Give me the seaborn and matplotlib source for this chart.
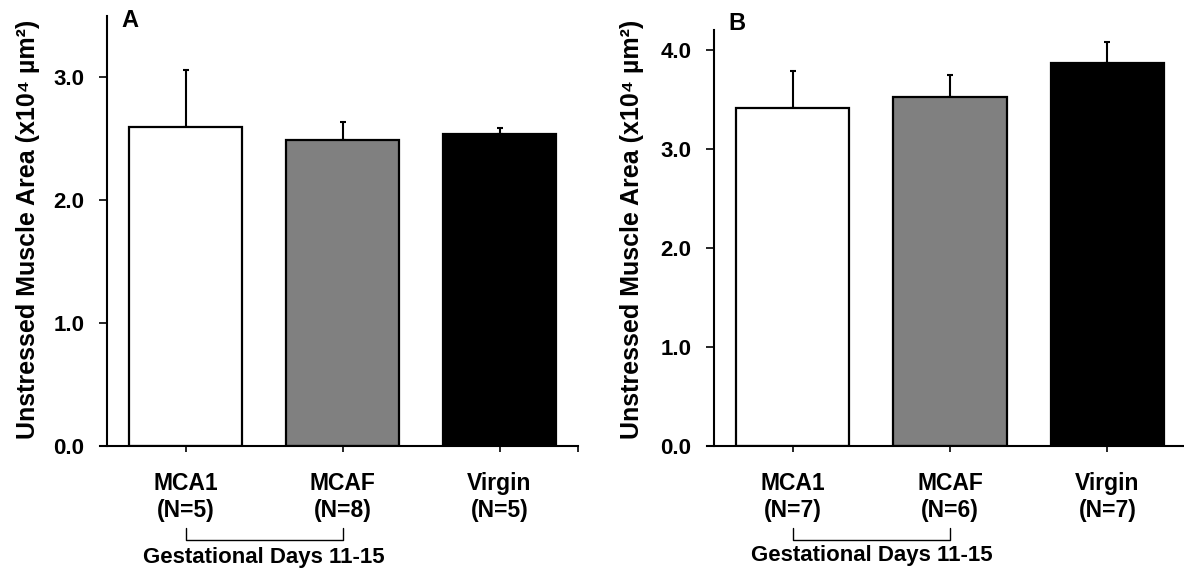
import matplotlib
matplotlib.use("Agg")
import matplotlib.pyplot as plt
import seaborn as sns
import numpy as np

# ---- data ----
groups = ["MCA1", "MCAF", "Virgin"]
labels_a = ["MCA1\n(N=5)", "MCAF\n(N=8)", "Virgin\n(N=5)"]
labels_b = ["MCA1\n(N=7)", "MCAF\n(N=6)", "Virgin\n(N=7)"]
means_a = [2.60, 2.49, 2.54]
sem_a = [0.46, 0.15, 0.05]
means_b = [3.41, 3.525, 3.865]
sem_b = [0.38, 0.22, 0.22]
bar_colors = ["#ffffff", "#808080", "#000000"]
ylabel = "Unstressed Muscle Area (x10\u2074 \u00b5m\u00b2)"
bracket_text = "Gestational Days 11-15"

sns.set_theme(style="white")
plt.rcParams["font.family"] = ["Liberation Sans", "DejaVu Sans"]
plt.rcParams["text.color"] = "black"
plt.rcParams["xtick.color"] = "black"
plt.rcParams["ytick.color"] = "black"
plt.rcParams["axes.labelcolor"] = "black"

W, H = 1184, 569
fig = plt.figure(figsize=(W / 100, H / 100), dpi=100)

def px_axes(left, right, bottom, top):
    return [left / W, 1 - bottom / H, (right - left) / W, (bottom - top) / H]

def draw_panel(ax, means, sems, xlabels, ymax, yticks, letter, letter_xy, ylab_x):
    sns.barplot(x=groups, y=means, hue=groups, palette=bar_colors, legend=False,
                edgecolor="black", linewidth=1.6, width=0.72, ax=ax, saturation=1)
    ax.errorbar(range(len(groups)), means, yerr=[np.zeros(len(sems)), sems],
                fmt="none", ecolor="black", elinewidth=1.5, capsize=2.5, capthick=1.5,
                zorder=1)
    for p in ax.patches:
        p.set_zorder(2)
    ax.set_xlim(-0.545, 2.5)
    ax.set_ylim(0, ymax)
    ax.spines["left"].set_position(("data", -0.5))
    for s in ["top", "right"]:
        ax.spines[s].set_visible(False)
    for s in ["left", "bottom"]:
        ax.spines[s].set_linewidth(1.5)
        ax.spines[s].set_color("black")
    ax.set_yticks(yticks)
    ax.set_yticklabels([f"{v:.1f}" for v in yticks], fontsize=16, fontweight="bold")
    ax.set_xticks([0, 1, 2, 2.5])
    ax.set_xticklabels(xlabels + [""], fontsize=16.5, fontweight="bold", linespacing=1.2)
    ax.tick_params(axis="y", direction="out", length=5.5, width=1.2, pad=11, left=True, colors="black")
    ax.tick_params(axis="x", direction="out", length=4, width=1.2, pad=15, bottom=True, colors="black")
    ax.set_xlabel("")
    ax.set_ylabel("")
    fig.text(ylab_x / W, (H - 229) / H, ylabel, rotation=90, fontsize=18,
             fontweight="bold", ha="center", va="center")
    fig.text(letter_xy[0] / W, 1 - letter_xy[1] / H, letter, fontsize=17,
             fontweight="bold", ha="left", va="top")

# Panel A
axA = fig.add_axes(px_axes(100, 578, 446, 16))
draw_panel(axA, means_a, sem_a, labels_a, 3.5, [0.0, 1.0, 2.0, 3.0], "A", (121, 9), 28)
# Panel B
axB = fig.add_axes(px_axes(707, 1186, 446, 30.2))
draw_panel(axB, means_b, sem_b, labels_b, 4.2, [0.0, 1.0, 2.0, 3.0, 4.0], "B", (728, 12), 632)

# brackets under MCA1 & MCAF
for ax, ytxt in [(axA, 558), (axB, 556)]:
    trans = ax.get_xaxis_transform()
    bbox = ax.get_position()
    def yfrac(py):
        fy = 1 - py / H
        return (fy - bbox.y0) / bbox.height
    ax.plot([0, 0, 1, 1], [yfrac(528), yfrac(540), yfrac(540), yfrac(528)],
            color="black", lw=1.0, transform=trans, clip_on=False)
    ax.text(0.5, yfrac(ytxt), bracket_text, transform=trans, ha="center", va="center",
            fontsize=16, fontweight="bold", clip_on=False)

fig.savefig("out.png", dpi=100)
